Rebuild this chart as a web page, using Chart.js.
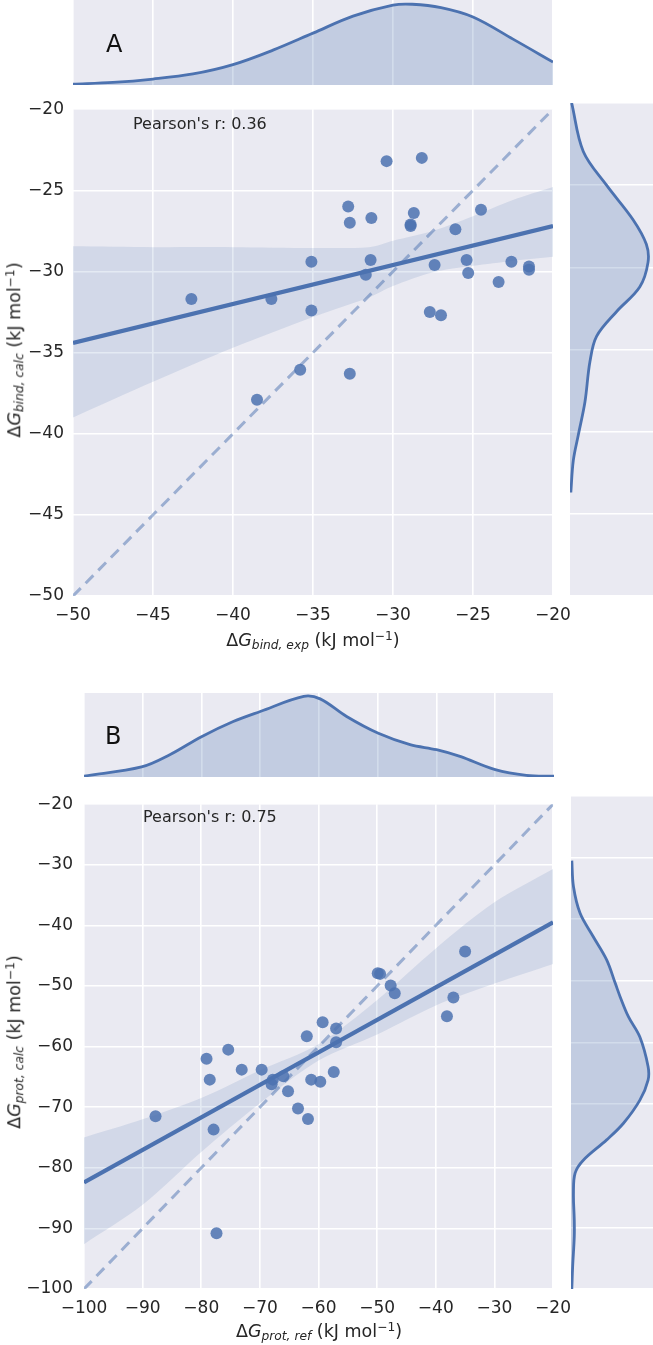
<!DOCTYPE html>
<html lang="en">
<head>
<meta charset="UTF-8">
<title>ΔG joint plots</title>
<style>
  body { margin: 0; background: #fff; font-family: "DejaVu Sans", sans-serif; color: #262626; }
  #page { position: relative; width: 653px; height: 1345px; overflow: hidden; }
  canvas { position: absolute; z-index: 1; }
  .lbl { position: absolute; white-space: nowrap; line-height: 1; z-index: 5; }
  .ax { font-size: 17.5px; }
  .ax sub { font-size: 70%; font-style: italic; vertical-align: -0.28em; line-height: 0; }
  .ax sup { font-size: 70%; vertical-align: 0.5em; line-height: 0; }
  .rot { transform: translate(-50%, -50%) rotate(-90deg); }
  .hc { transform: translateX(-50%); }
  .letter { font-size: 24px; color: #111; }
  .note { font-size: 16px; }
</style>
</head>
<body>
<div id="page">
  <div class="lbl letter" style="left:106px; top:32px;">A</div>
  <div class="lbl note" style="left:133px; top:116px;">Pearson's r: 0.36</div>
  <div class="lbl ax hc" style="left:313px; top:632px;">Δ<i>G</i><sub>bind, exp</sub> (kJ mol<sup>−1</sup>)</div>
  <div class="lbl ax rot" style="left:15px; top:350px;">Δ<i>G</i><sub>bind, calc</sub> (kJ mol<sup>−1</sup>)</div>

  <div class="lbl letter" style="left:105px; top:724px;">B</div>
  <div class="lbl note" style="left:143px; top:809px;">Pearson's r: 0.75</div>
  <div class="lbl ax hc" style="left:319px; top:1323px;">Δ<i>G</i><sub>prot, ref</sub> (kJ mol<sup>−1</sup>)</div>
  <div class="lbl ax rot" style="left:15px; top:1042px;">Δ<i>G</i><sub>prot, calc</sub> (kJ mol<sup>−1</sup>)</div>
</div>

<script src="https://cdn.jsdelivr.net/npm/chart.js"></script>
<script>
  // ---- panel A: binding free energies ----
  const ticksA = [-50, -45, -40, -35, -30, -25, -20];
  const expA  = [-42.6, -37.6, -35.1, -35.1, -32.8, -32.7, -31.35, -31.4, -31.7, -30.4, -28.2, -28.7, -28.9, -28.9,
                 -27.4, -27.7, -27.0, -26.1, -24.5, -25.4, -25.3, -22.6, -23.4, -21.5, -21.5, -38.5, -35.8, -32.7];
  const calcA = [-31.7, -31.7, -29.4, -32.4, -26.0, -27.0, -26.7, -29.3, -30.2, -23.2, -23.0, -26.4, -27.1, -27.2,
                 -29.6, -32.5, -32.7, -27.4, -26.2, -29.3, -30.1, -29.4, -30.65, -29.7, -29.9, -37.9, -36.05, -36.3];
  const regAx = [-50, -20];
  const regAy = [-34.4, -27.2];
  const bandAx  = [-50, -45, -40, -35, -31.5, -30, -27.5, -25, -22.5, -20];
  const bandAhi = [-28.45, -28.5, -28.5, -28.55, -28.5, -28.1, -27.5, -26.6, -25.6, -24.8];
  const bandAlo = [-39.0, -36.8, -34.7, -32.8, -31.6, -30.9, -30.05, -29.65, -29.35, -29.1];
  const kdeTopAx = [-50, -47.5, -45, -42.5, -40, -37.5, -35, -32.5, -30, -28.8, -27, -25, -22.5, -20];
  const kdeTopAd = [0.01, 0.03, 0.07, 0.13, 0.24, 0.41, 0.61, 0.81, 0.94, 0.95, 0.91, 0.80, 0.54, 0.27];
  const kdeRightAv = [-20, -22.95, -25.0, -27.1, -28.6, -29.7, -31.2, -32.7, -34.2, -35.75, -38.2, -40.2, -41.75, -43.7];
  const kdeRightAd = [0.02, 0.16, 0.44, 0.76, 0.92, 0.94, 0.84, 0.56, 0.32, 0.24, 0.18, 0.10, 0.04, 0.01];

  // ---- panel B: protonation free energies ----
  const ticksB = [-100, -90, -80, -70, -60, -50, -40, -30, -20];
  const refB  = [-35.0, -49.9, -49.5, -47.7, -47.0, -37.0, -38.1, -59.3, -57.0, -62.0, -57.0, -75.4, -79.1, -73.1,
                 -69.7, -57.4, -67.8, -68.0, -66.0, -61.25, -59.7, -65.2, -78.55, -63.5, -61.8, -87.8, -77.9, -77.4];
  const calcB = [-44.3, -47.9, -48.0, -49.9, -51.2, -51.9, -55.0, -56.0, -57.0, -58.3, -59.3, -60.5, -62.0, -63.8,
                 -63.8, -64.2, -65.45, -66.2, -64.9, -65.45, -65.8, -67.35, -65.45, -70.2, -71.95, -71.5, -73.7, -90.8];
  const regBx = [-100, -20];
  const regBy = [-82.4, -39.5];
  const bandBx  = [-100, -90, -80, -70, -60, -50, -40, -30, -20];
  const bandBhi = [-75.0, -72.0, -68.5, -63.9, -59.6, -52.3, -43.8, -36.2, -30.7];
  const bandBlo = [-92.6, -86.1, -77.4, -69.35, -62.3, -58.0, -53.2, -49.6, -46.35];
  const kdeTopBx = [-100, -90.2, -85.4, -80, -74.6, -70, -62.6, -59.8, -55.3, -49.9, -44.5, -40, -36, -30, -24.7, -20];
  const kdeTopBd = [0.01, 0.12, 0.265, 0.48, 0.66, 0.78, 0.96, 0.93, 0.72, 0.52, 0.385, 0.325, 0.245, 0.087, 0.02, 0.01];
  const kdeRightBv = [-30.5, -34.7, -39.0, -42.8, -46.6, -50.4, -52.6, -55.8, -59.1, -63.9, -66.1, -69.35, -73.1,
                      -75.8, -79.1, -81.2, -84.5, -88.8, -91.5, -96.4, -100];
  const kdeRightBd = [0.01, 0.03, 0.11, 0.27, 0.435, 0.54, 0.60, 0.70, 0.84, 0.94, 0.94, 0.84, 0.64,
                      0.435, 0.15, 0.05, 0.03, 0.04, 0.04, 0.02, 0.01];

  const BLUE = '#4c72b0';
  const FONT = { family: 'DejaVu Sans', size: 17 };

  // plot area background (seaborn darkgrid)
  const bgPlugin = {
    id: 'bg',
    beforeDraw(c) {
      const a = c.chartArea, g = c.ctx;
      g.save();
      g.fillStyle = '#eaeaf2';
      g.fillRect(a.left, a.top, a.right - a.left, a.bottom - a.top);
      g.restore();
    }
  };

  function canvasAt(left, top, w, h) {
    const c = document.createElement('canvas');
    c.width = w; c.height = h;
    c.style.left = left + 'px'; c.style.top = top + 'px';
    c.style.width = w + 'px'; c.style.height = h + 'px';
    document.getElementById('page').appendChild(c);
    return c;
  }

  const pts = (xs, ys) => xs.map((x, i) => ({ x: x, y: ys[i] }));
  const minus = v => String(v).replace('-', '\u2212');
  const grid = () => ({ color: '#ffffff', lineWidth: 1.6, drawTicks: false });
  const setTicks = list => s => { s.ticks = list.map(v => ({ value: v })); };
  const base = {
    responsive: false, animation: false, events: [], devicePixelRatio: 1,
    plugins: { legend: { display: false }, tooltip: { enabled: false } }
  };

  function mainPanel(cv, ticks, g, d) {
    const lo = ticks[0], hi = ticks[ticks.length - 1];
    new Chart(cv, {
      type: 'scatter',
      data: {
        datasets: [
          { data: pts(d.x, d.y), backgroundColor: 'rgba(76,114,176,0.85)', borderWidth: 0, pointRadius: 6, order: 0 },
          { type: 'line', data: pts([lo, hi], [lo, hi]), borderColor: 'rgba(76,114,176,0.5)', borderWidth: 3,
            borderDash: [11, 7], pointRadius: 0, fill: false, order: 1 },
          { type: 'line', data: pts(d.regX, d.regY), borderColor: BLUE, borderWidth: 4.2, pointRadius: 0, fill: false, order: 2 },
          { type: 'line', data: pts(d.bandX, d.bandHi), borderWidth: 0, pointRadius: 0, tension: 0.3,
            fill: '+1', backgroundColor: 'rgba(76,114,176,0.15)', order: 3 },
          { type: 'line', data: pts(d.bandX, d.bandLo), borderWidth: 0, pointRadius: 0, tension: 0.3, fill: false, order: 4 }
        ]
      },
      options: Object.assign({}, base, {
        layout: { padding: { top: g.padTop, right: g.padRight, left: 0, bottom: 0 } },
        scales: {
          x: {
            type: 'linear', min: lo, max: hi, grid: grid(), border: { display: false },
            afterBuildTicks: setTicks(ticks), afterFit: s => { s.height = g.axisH; },
            ticks: { padding: 9, color: '#262626', font: FONT, autoSkip: false, maxRotation: 0, callback: minus }
          },
          y: {
            type: 'linear', min: lo, max: hi, grid: grid(), border: { display: false },
            afterBuildTicks: setTicks(ticks), afterFit: s => { s.width = g.axisW; },
            ticks: { padding: g.yPad, color: '#262626', font: FONT, autoSkip: false, callback: minus }
          }
        }
      }),
      plugins: [bgPlugin]
    });
  }

  function topMarginal(cv, ticks, xs, ds) {
    new Chart(cv, {
      type: 'line',
      data: { datasets: [{ data: pts(xs, ds), borderColor: BLUE, borderWidth: 2.8, pointRadius: 0, tension: 0.35,
                           fill: 'origin', backgroundColor: 'rgba(76,114,176,0.25)' }] },
      options: Object.assign({}, base, {
        layout: { padding: 0 },
        scales: {
          x: { type: 'linear', min: ticks[0], max: ticks[ticks.length - 1], grid: grid(), border: { display: false },
               ticks: { display: false }, afterBuildTicks: setTicks(ticks), afterFit: s => { s.height = 0; } },
          y: { type: 'linear', min: 0, max: 1, display: false }
        }
      }),
      plugins: [bgPlugin]
    });
  }

  function rightMarginal(cv, ticks, vs, ds) {
    new Chart(cv, {
      type: 'line',
      data: { datasets: [{ data: pts(ds, vs), borderColor: BLUE, borderWidth: 2.8, pointRadius: 0, tension: 0.35,
                           fill: 'origin', backgroundColor: 'rgba(76,114,176,0.25)' }] },
      options: Object.assign({}, base, {
        indexAxis: 'y',
        layout: { padding: 0 },
        scales: {
          x: { type: 'linear', min: 0, max: 1, display: false },
          y: { type: 'linear', min: ticks[0], max: ticks[ticks.length - 1], grid: grid(), border: { display: false },
               ticks: { display: false }, afterBuildTicks: setTicks(ticks), afterFit: s => { s.width = 0; } }
        }
      }),
      plugins: [bgPlugin]
    });
  }

  // panel A
  mainPanel(canvasAt(0, 90, 580, 540), ticksA,
    { padTop: 13, padRight: 27, axisH: 34, axisW: 73, yPad: 9 },
    { x: expA, y: calcA, regX: regAx, regY: regAy, bandX: bandAx, bandHi: bandAhi, bandLo: bandAlo });
  topMarginal(canvasAt(73, 0, 480, 85), ticksA, kdeTopAx, kdeTopAd);
  rightMarginal(canvasAt(570, 103, 83, 493), ticksA, kdeRightAv, kdeRightAd);

  // panel B
  mainPanel(canvasAt(0, 783, 580, 540), ticksB,
    { padTop: 13, padRight: 26, axisH: 34, axisW: 84, yPad: 11 },
    { x: refB, y: calcB, regX: regBx, regY: regBy, bandX: bandBx, bandHi: bandBhi, bandLo: bandBlo });
  topMarginal(canvasAt(84, 693, 470, 84), ticksB, kdeTopBx, kdeTopBd);
  rightMarginal(canvasAt(571, 796, 82, 493), ticksB, kdeRightBv, kdeRightBd);
</script>
</body>
</html>
